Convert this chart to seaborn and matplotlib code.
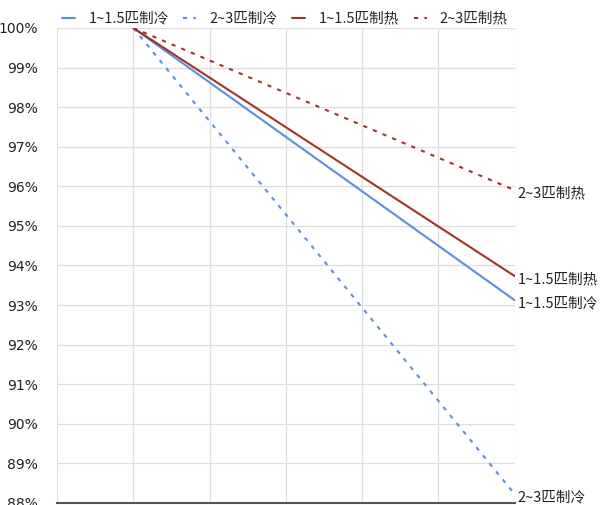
import pandas as pd
import matplotlib
matplotlib.use("Agg")
import matplotlib.pyplot as plt
import seaborn as sns

# dati (percentuale di capacità residua)
x_pos = [1, 6]
names = ["1~1.5匹制冷", "2~3匹制冷", "1~1.5匹制热", "2~3匹制热"]
cool_small = [100.0, 93.12]
cool_big = [100.0, 88.22]
heat_small = [100.0, 93.73]
heat_big = [100.0, 95.9]

colors = ["#5b8fdc", "#5b8fdc", "#a33327", "#a33327"]
dashes = ["-", (0, (2, 3)), "-", (0, (2, 3))]

sns.set_theme(style="white")
plt.rcParams["font.family"] = ["DejaVu Sans", "Noto Sans CJK SC"]
cjk = ["Noto Sans CJK SC", "DejaVu Sans"]

fig = plt.figure(figsize=(6, 5.05), dpi=100)
ax = fig.add_axes([0.095, 0.004, 0.763, 0.9406])

series = [cool_small, cool_big, heat_small, heat_big]
for name, vals, c, d in zip(names, series, colors, dashes):
    df = pd.DataFrame({"x": x_pos, "y": vals})
    sns.lineplot(data=df, x="x", y="y", ax=ax, color=c, lw=1.5, label=name)
    ax.lines[-1].set_linestyle(d)
    # etichetta a fine linea
    ax.annotate(name, xy=(x_pos[-1], vals[-1]), xytext=(2, -2), textcoords="offset points",
                va="center", ha="left", fontsize=10.5, color="#222222", family=cjk,
                annotation_clip=False)

ax.set_xlim(0, 6)
ax.set_ylim(88, 100)
ax.set_xticks(range(0, 7))
ax.set_xticklabels([])
ax.set_yticks(range(88, 101))
ax.set_yticklabels([f"{v}%" for v in range(88, 101)], fontsize=10, color="#222222")
ax.tick_params(axis="y", length=0, pad=14)
ax.tick_params(axis="x", length=0)
ax.grid(True, color="#dddddd", lw=0.9)
ax.set_xlabel("")
ax.set_ylabel("")
for side in ["top", "right", "left"]:
    ax.spines[side].set_visible(False)
ax.spines["bottom"].set_color("#555555")
ax.spines["bottom"].set_linewidth(1.5)

handles, labels = ax.get_legend_handles_labels()
ax.get_legend().remove()
fig.legend(handles, labels, loc="upper center", bbox_to_anchor=(0.475, 1.003), ncol=4,
           frameon=False, prop={"family": cjk, "size": 10.5},
           handlelength=0.9, handletextpad=0.9, columnspacing=1.0)

fig.savefig("out.png", dpi=100)
